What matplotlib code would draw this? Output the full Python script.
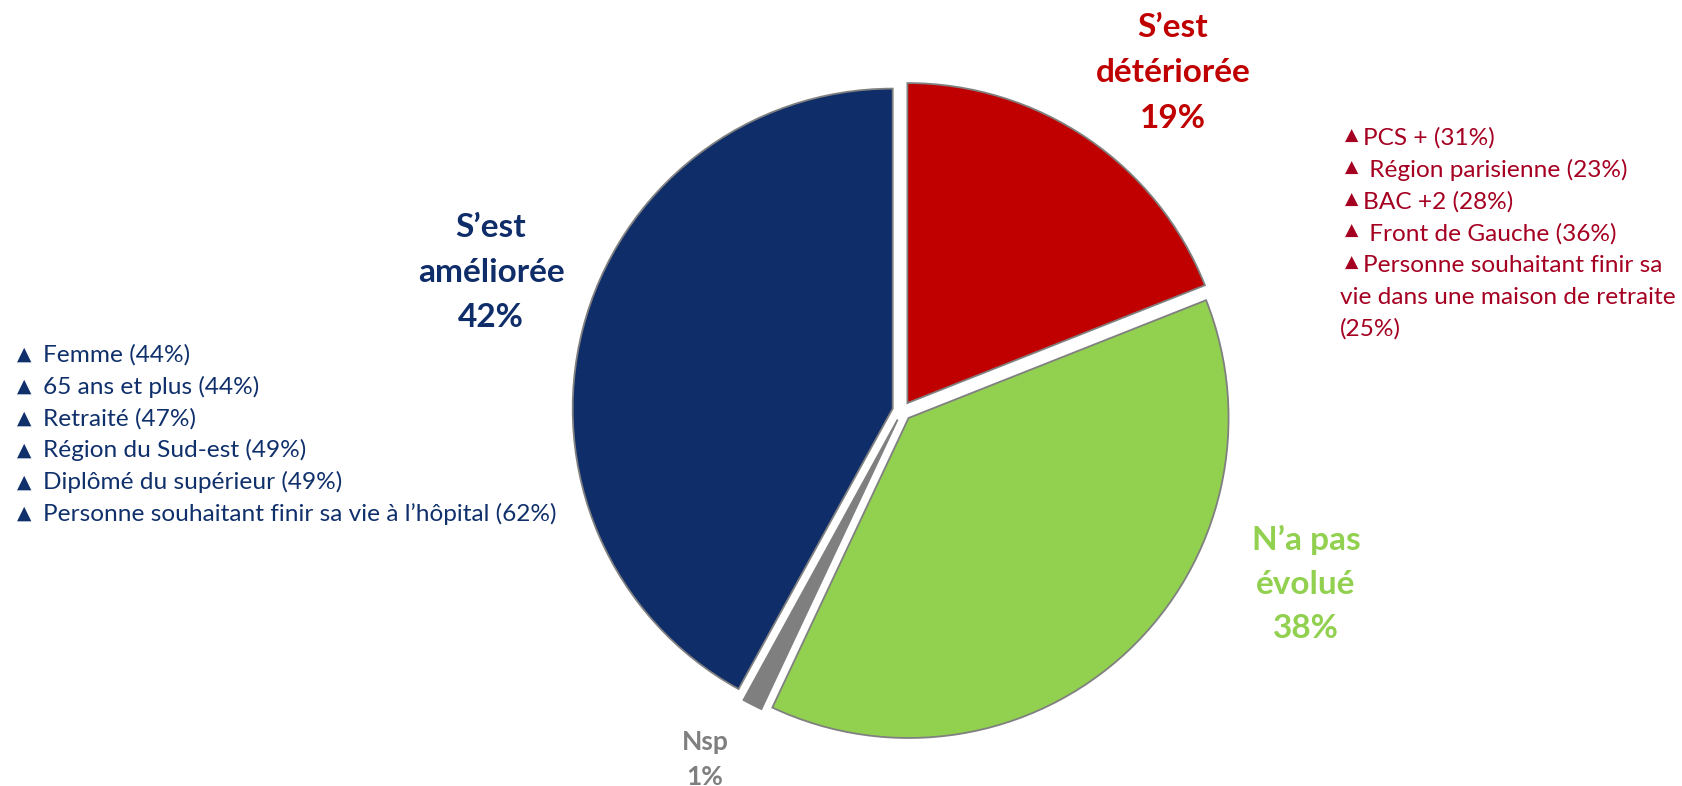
import matplotlib
matplotlib.use("Agg")
import matplotlib.pyplot as plt

# Opinion shares, clockwise from 12 o'clock
categories = ["S\u2019est détériorée", "N\u2019a pas évolué", "Nsp", "S\u2019est améliorée"]
label_lines = [["S\u2019est", "détériorée"], ["N\u2019a pas", "évolué"], ["Nsp"], ["S\u2019est", "améliorée"]]
values = [19, 38, 1, 42]
colors = ["#C00000", "#92D050", "#7F7F7F", "#0F2D69"]
text_colors = ["#C00000", "#92D050", "#7F7F7F", "#0F2D69"]

# Sub-group highlights
improved_groups = [
    "Femme (44%)",
    "65 ans et plus (44%)",
    "Retraité (47%)",
    "Région du Sud-est (49%)",
    "Diplômé du supérieur (49%)",
    "Personne souhaitant finir sa vie à l\u2019hôpital (62%)",
]
worsened_groups = [
    "PCS + (31%)",
    " Région parisienne (23%)",
    "BAC +2 (28%)",
    " Front de Gauche (36%)",
    "Personne souhaitant finir sa\nvie dans une maison de retraite\n(25%)",
]

W, H = 1682, 786
fig = plt.figure(figsize=(W / 100, H / 100), dpi=100)
ax = fig.add_axes([0, 0, 1, 1])

FONT = "Lato"
cx, cy, R = 902, H - 411, 320

ax.pie(
    values,
    colors=colors,
    startangle=90,
    counterclock=False,
    explode=[0.03 * R] * len(values),
    center=(cx, cy),
    radius=R,
    wedgeprops=dict(edgecolor="#808080", linewidth=1.3),
)
ax.set_xlim(0, W)
ax.set_ylim(0, H)
ax.set_aspect("equal")
ax.axis("off")

# Category labels (name + share), one text per line, positioned by baseline
label_x = [1173, 1306, 705, 491]
label_top = [37, 550, 750, 237]
label_step = [45.5, 44, 35, 45]
label_size = [24, 24, 19, 24]
for lines, v, c, x, top, step, fs in zip(label_lines, values, text_colors,
                                          label_x, label_top, label_step, label_size):
    for k, line in enumerate(lines + [f"{v}%"]):
        ax.text(x, H - (top + k * step), line, ha="center", va="baseline",
                color=c, fontsize=fs, fontweight="bold", family=FONT)

LIST_FS = 17.6
TRI_FS = 13.5

# Left list (improved)
left_color = "#10306B"
for i, t in enumerate(improved_groups):
    base = H - (362 + i * 31.8)
    ax.text(24.5, base + 2, "\u25B2", ha="center", va="baseline", color=left_color,
            fontsize=TRI_FS, family="DejaVu Sans")
    ax.text(43, base, t, ha="left", va="baseline", color=left_color,
            fontsize=LIST_FS, family=FONT)

# Right list (worsened)
right_color = "#A50021"
row = 0
for t in worsened_groups:
    first, *rest = t.split("\n")
    base = H - (145 + row * 31.8)
    ax.text(1351.5, base + 4, "\u25B2", ha="center", va="baseline", color=right_color,
            fontsize=TRI_FS - 1, family="DejaVu Sans")
    ax.text(1363, base, first, ha="left", va="baseline", color=right_color,
            fontsize=LIST_FS, family=FONT)
    row += 1
    for line in rest:
        base = H - (145 + row * 31.8)
        ax.text(1340, base, line, ha="left", va="baseline", color=right_color,
                fontsize=LIST_FS, family=FONT)
        row += 1

fig.savefig("out.png", dpi=100, facecolor="white")
